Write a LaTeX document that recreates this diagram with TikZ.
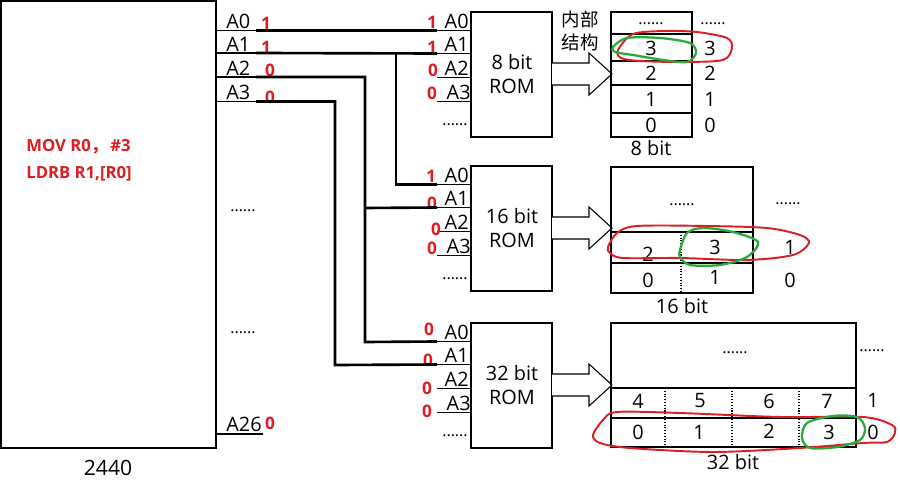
\documentclass[tikz,border=0pt]{standalone}
\usepackage{fontspec}
\setmainfont{Open Sans}
\newfontfamily\cjk{Noto Sans CJK SC}
\definecolor{rednum}{RGB}{220,30,35}
\definecolor{grn}{RGB}{40,170,60}
\begin{document}
\begin{tikzpicture}[x=0.02cm,y=-0.02cm,
  thinl/.style={line width=0.6pt},
  bus/.style={line width=1.5pt},
  lbl/.style={font=\fontsize{11.3}{13}\selectfont, inner sep=0pt},
  pinl/.style={lbl, anchor=south west},
  pinr/.style={lbl, anchor=south east},
  rd/.style={text=rednum, font=\bfseries\fontsize{9.8}{11}\selectfont, inner sep=0pt},
  dots/.style={font=\fontsize{9}{10}\selectfont, inner sep=0pt},
  redring/.style={draw=rednum, line width=1.1pt},
  grnring/.style={draw=grn, line width=1.3pt},
  blockarrow/.style={thinl, fill=white}]
\useasboundingbox (0,0) rectangle (900,493);

% ---------- 2440 chip ----------
\draw[thinl] (1,1) rectangle (216,448);
\node[lbl] (chipname) at (108,468) {\fontsize{12}{14}\selectfont 2440};
\node[text=rednum, font=\bfseries\fontsize{9.5}{11}\selectfont, anchor=west, inner sep=0pt] (code1) at (26,147) {MOV R0{\cjk ，}\,\#3};
\node[text=rednum, font=\bfseries\fontsize{9.5}{11}\selectfont, anchor=west, inner sep=0pt] (code2) at (26,174) {LDRB R1,[R0]};
\node[dots] (cdots1) at (243,211) {......};
\node[dots] (cdots2) at (243,333) {......};

% chip pins
\foreach \n/\y in {A0/30.5,A1/53,A2/77,A3/101.5,A26/434}{
  \coordinate (p\n s) at (216,\y);
  \coordinate (p\n) at (256,\y);
  \coordinate (p\n e) at (263,\y);
  \draw[thinl] (p\n s) -- (p\n e);
}
\node[pinl] (lpA0) at (226,29) {A0};
\node[pinl] (lpA1) at (226,51.5) {A1};
\node[pinl] (lpA2) at (226,75.5) {A2};
\node[pinl] (lpA3) at (226,100) {A3};
\node[pinl] (lpA26) at (226,432.5) {A26};
\node[rd] (vp0) at (266,23) {1};
\node[rd] (vp1) at (266,47) {1};
\node[rd] (vp2) at (270,70) {0};
\node[rd] (vp3) at (270,97) {0};
\node[rd] (vp26) at (270,423) {0};

% ---------- ROMs ----------
\foreach \r/\top/\bits in {ra/12/8,rb/166/16,rc/323/32}{
  \draw[thinl] (471,\top) rectangle (552,\top+125);
  \node[lbl, align=center] (rom\r) at (512,\top+62) {\bits\ bit\\[1pt]ROM};
  \foreach \n/\dy in {A0/18.5,A1/41.5,A2/65.5,A3/89.5}{
    \coordinate (\r\n) at (437,\top+\dy);
    \draw[thinl] (\r\n) -- (471,\top+\dy);
  }
  \node[dots] (\r dots) at (455,\top+113) {......};
  \node[pinr] (l\r A0) at (469,\top+17) {A0};
  \node[pinr] (l\r A1) at (469,\top+40) {A1};
  \node[pinr] (l\r A2) at (469,\top+64) {A2};
  \node[pinr] (l\r A3) at (471,\top+88) {A3};
  % block arrow
  \draw[blockarrow] (552,\top+51) -- (589,\top+51) -- (589,\top+41) -- (612,\top+62)
     -- (589,\top+83) -- (589,\top+73) -- (552,\top+73);
}
% red values at ROM pins
\node[rd] (va0) at (432,22) {1};
\node[rd] (va1) at (432,47) {1};
\node[rd] (va2) at (433,70) {0};
\node[rd] (va3) at (432,93) {0};
\node[rd] (vb0) at (431,176) {1};
\node[rd] (vb1) at (432,203) {0};
\node[rd] (vb2) at (436,229) {0};
\node[rd] (vb3) at (432,248) {0};
\node[rd] (vc0) at (429,329) {0};
\node[rd] (vc1) at (428,360) {0};
\node[rd] (vc2) at (427,388) {0};
\node[rd] (vc3) at (427,411) {0};

% ---------- address bus wiring ----------
\draw[bus] (pA0) -- (raA0);
\draw[bus] (pA1) -- (raA1);
\draw[bus] (396,53) |- (rbA0);
\draw[bus] (pA2) -| (365,342) -- (rcA0);
\draw[bus] (365,208) -- (rbA1);
\draw[bus] (pA3) -| (335,365) -- (rcA1);

% ---------- 8 bit table ----------
\node[lbl, font={\cjk\fontsize{10.5}{13.5}\selectfont}, align=center] (inner) at (580,31) {内部\\结构};
\draw[thinl] (611,12) rectangle (692,137);
\draw[line width=1pt] (611,34) -- (692,34);
\foreach \y in {61,85,113} \draw[thinl] (611,\y) -- (692,\y);
\node[dots] (t8d) at (651,24) {......};
\node[lbl] (t83) at (651,48) {3};
\node[lbl] (t82) at (651,73) {2};
\node[lbl] (t81) at (651,99) {1};
\node[lbl] (t80) at (651,125) {0};
\node[dots] (r8d) at (713,24) {......};
\node[lbl] (r83) at (710,48) {3};
\node[lbl] (r82) at (710,73) {2};
\node[lbl] (r81) at (710,99) {1};
\node[lbl] (r80) at (710,125) {0};
\node[lbl] (cap8) at (651,148) {8 bit};
\draw[redring] plot[smooth cycle] coordinates {(618,50) (633,34) (665,31) (697,32) (727,38) (732,48) (723,60) (683,62) (640,61) (621,58)};
\draw[grnring] plot[smooth cycle] coordinates {(613,47) (627,38) (660,38) (690,43) (696,53) (687,62) (663,60) (633,55) (615,52)};

% ---------- 16 bit table ----------
\draw[thinl] (611,167) rectangle (753,293);
\draw[thinl] (611,232) -- (753,232);
\draw[thinl] (611,263) -- (753,263);
\draw[thinl, densely dotted] (681,232) -- (681,293);
\node[dots] (t16d) at (682,205) {......};
\node[lbl] (t162) at (648,254) {2};
\node[lbl] (t163) at (715,247) {3};
\node[lbl] (t160) at (648,280) {0};
\node[lbl] (t161) at (715,277) {1};
\node[dots] (r16d) at (788,204) {......};
\node[lbl] (r161) at (790,247) {1};
\node[lbl] (r160) at (790,280) {0};
\node[lbl] (cap16) at (682,306) {16 bit};
\draw[redring] plot[smooth cycle] coordinates {(608,247) (617,233) (637,226) (707,226) (767,228) (800,235) (809,243) (793,255) (747,260) (680,258) (623,258) (610,253)};
\draw[grnring] plot[smooth cycle] coordinates {(680,250) (687,233) (703,228) (733,232) (758,242) (747,257) (720,265) (690,265) (680,257)};

% ---------- 32 bit table ----------
\draw[thinl] (611,323) rectangle (856,447);
\draw[thinl] (611,388) -- (856,388);
\draw[thinl] (611,418) -- (856,418);
\foreach \x in {665,732,799} \draw[thinl, densely dotted] (\x,388) -- (\x,447);
\node[dots] (t32d) at (735,353) {......};
\node[dots] (r32d) at (872,351) {......};
\node[lbl] (t324) at (638,401) {4};
\node[lbl] (t325) at (700,401) {5};
\node[lbl] (t326) at (769,401) {6};
\node[lbl] (t327) at (827,401) {7};
\node[lbl] (r321) at (873,400) {1};
\node[lbl] (t320) at (638,432) {0};
\node[lbl] (t321) at (699,432) {1};
\node[lbl] (t322) at (769,431) {2};
\node[lbl] (t323) at (829,432) {3};
\node[lbl] (r320) at (873,432) {0};
\node[lbl] (cap32) at (733,462) {32 bit};
\draw[redring] plot[smooth cycle] coordinates {(593,435) (603,420) (617,412) (680,413) (780,417) (863,417) (892,425) (895,433) (887,442) (863,443) (800,448) (713,452) (630,448) (600,443)};
\draw[grnring] plot[smooth cycle] coordinates {(802,438) (807,423) (833,416) (857,417) (865,428) (860,440) (837,447) (810,448)};
\end{tikzpicture}
\end{document}
